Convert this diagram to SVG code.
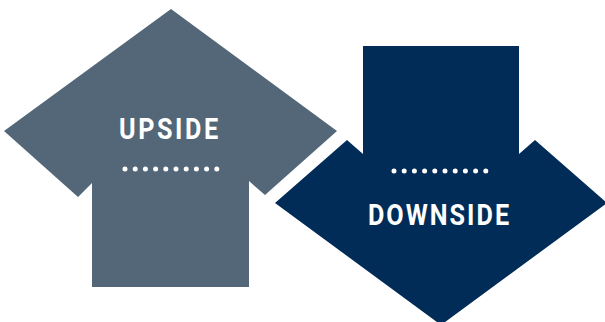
<svg xmlns="http://www.w3.org/2000/svg" width="605" height="322" viewBox="0 0 605 322">
  <style>
    .lbl { font-family: Roboto, "Liberation Sans", sans-serif; font-weight: 700; font-size: 30px; fill: #ffffff; text-anchor: middle; }
    .dots { stroke: #ffffff; stroke-width: 5; stroke-linecap: round; stroke-dasharray: 0 10.2; fill: none; }
  </style>
  <rect width="605" height="322" fill="#ffffff"/>
  <g id="upside">
    <polygon points="171,9 337,131 265,195 249,181 249,287 92,287 92,183 78,197 4,131" fill="#546778"/>
    <text class="lbl" transform="translate(168.5,139) scale(0.84,1)" x="0" y="0" textLength="118" lengthAdjust="spacing">UPSIDE</text>
    <line class="dots" x1="125" y1="169" x2="217.2" y2="169"/>
  </g>
  <g id="downside">
    <polygon points="363,46 519,46 519,154 535,140 607,203 441,325 275,203 347,140 363,154" fill="#012c57"/>
    <line class="dots" x1="394" y1="171" x2="486.2" y2="171"/>
    <text class="lbl" transform="translate(438.5,225) scale(0.84,1)" x="0" y="0" textLength="168" lengthAdjust="spacing">DOWNSIDE</text>
  </g>
  <g id="connectors"></g>
</svg>
